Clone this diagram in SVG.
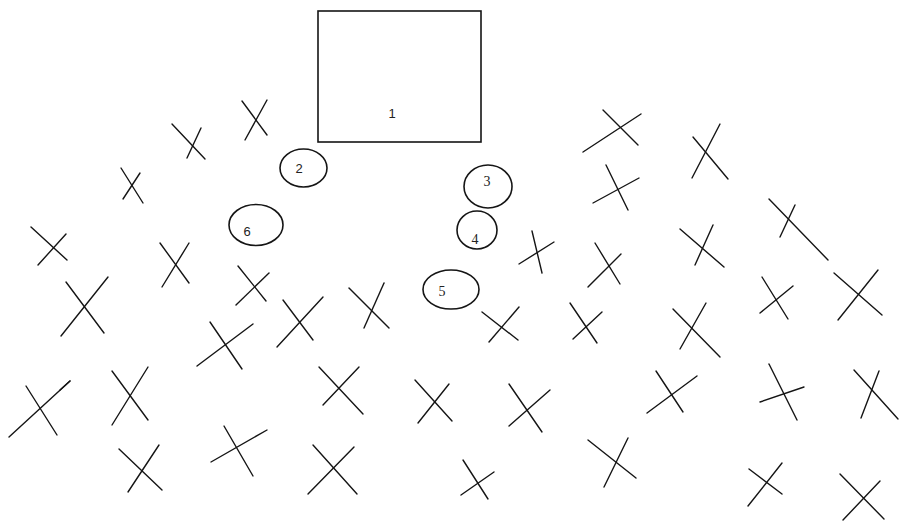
<svg xmlns="http://www.w3.org/2000/svg" width="899" height="527" viewBox="0 0 899 527">
<style>
.x line{stroke:#151515;stroke-width:1.4;stroke-linecap:round}
.n{fill:#fff;stroke:#151515;stroke-width:1.6}
.s{font-family:"Liberation Sans",Arial,sans-serif;font-size:13px;fill:#222;text-anchor:middle}
.r{font-family:"Liberation Serif","Times New Roman",serif;font-size:14px;fill:#222;text-anchor:middle}
</style>
<rect width="899" height="527" fill="#fff"/>
<g id="node1"><rect class="n" x="318" y="11" width="163" height="131" stroke-width="2"/><text class="s" x="392" y="118">1</text></g>
<g id="node2"><ellipse class="n" cx="303.5" cy="168" rx="23.5" ry="19"/><text class="s" x="299" y="173">2</text></g>
<g id="node3"><ellipse class="n" cx="488" cy="186.5" rx="24" ry="21.5"/><text class="r" x="487" y="186">3</text></g>
<g id="node4"><ellipse class="n" cx="477" cy="230" rx="20" ry="19"/><text class="r" x="475" y="244">4</text></g>
<g id="node5"><ellipse class="n" cx="451" cy="289.5" rx="28" ry="19.5"/><text class="r" x="442" y="296">5</text></g>
<g id="node6"><ellipse class="n" cx="256" cy="225" rx="27" ry="20.5"/><text class="s" x="247" y="236">6</text></g>
<g id="connectors" class="x">
<line x1="172" y1="124" x2="205" y2="159"/><line x1="201" y1="128" x2="187" y2="158"/>
<line x1="242" y1="101" x2="267" y2="135"/><line x1="267" y1="100" x2="245" y2="140"/>
<line x1="121" y1="168" x2="143" y2="203"/><line x1="140" y1="173" x2="123" y2="199"/>
<line x1="31" y1="227" x2="67" y2="260"/><line x1="66" y1="234" x2="38" y2="265"/>
<line x1="66" y1="282" x2="104" y2="333"/><line x1="108" y1="277" x2="61" y2="336"/>
<line x1="160" y1="243" x2="189" y2="283"/><line x1="189" y1="243" x2="162" y2="287"/>
<line x1="238" y1="266" x2="266" y2="301"/><line x1="269" y1="273" x2="236" y2="305"/>
<line x1="210" y1="322" x2="242" y2="369"/><line x1="253" y1="324" x2="197" y2="366"/>
<line x1="283" y1="300" x2="313" y2="340"/><line x1="323" y1="297" x2="277" y2="347"/>
<line x1="349" y1="288" x2="389" y2="328"/><line x1="384" y1="283" x2="364" y2="328"/>
<line x1="532" y1="231" x2="542" y2="273"/><line x1="554" y1="242" x2="519" y2="264"/>
<line x1="482" y1="312" x2="518" y2="340"/><line x1="519" y1="307" x2="489" y2="342"/>
<line x1="570" y1="303" x2="597" y2="343"/><line x1="602" y1="312" x2="573" y2="339"/>
<line x1="595" y1="243" x2="620" y2="284"/><line x1="621" y1="254" x2="588" y2="287"/>
<line x1="606" y1="165" x2="628" y2="210"/><line x1="593" y1="203" x2="639" y2="178"/>
<line x1="583" y1="152" x2="641" y2="114"/><line x1="603" y1="110" x2="638" y2="145"/>
<line x1="720" y1="124" x2="692" y2="178"/><line x1="693" y1="137" x2="728" y2="179"/>
<line x1="680" y1="229" x2="724" y2="267"/><line x1="713" y1="225" x2="695" y2="265"/>
<line x1="769" y1="199" x2="828" y2="260"/><line x1="795" y1="205" x2="780" y2="237"/>
<line x1="762" y1="277" x2="788" y2="319"/><line x1="793" y1="286" x2="760" y2="313"/>
<line x1="834" y1="273" x2="882" y2="315"/><line x1="878" y1="270" x2="838" y2="320"/>
<line x1="673" y1="309" x2="720" y2="357"/><line x1="706" y1="303" x2="680" y2="349"/>
<line x1="9" y1="437" x2="70" y2="381"/><line x1="26" y1="386" x2="57" y2="435"/>
<line x1="60" y1="390" x2="70" y2="381" stroke-width="2.6"/>
<line x1="112" y1="371" x2="148" y2="420"/><line x1="148" y1="367" x2="112" y2="425"/>
<line x1="119" y1="449" x2="162" y2="490"/><line x1="159" y1="445" x2="128" y2="492"/>
<line x1="224" y1="426" x2="253" y2="476"/><line x1="267" y1="430" x2="211" y2="462"/>
<line x1="319" y1="367" x2="363" y2="414"/><line x1="359" y1="367" x2="323" y2="405"/>
<line x1="415" y1="380" x2="452" y2="421"/><line x1="449" y1="384" x2="418" y2="423"/>
<line x1="509" y1="384" x2="542" y2="432"/><line x1="550" y1="390" x2="509" y2="426"/>
<line x1="313" y1="445" x2="357" y2="494"/><line x1="354" y1="447" x2="308" y2="494"/>
<line x1="463" y1="460" x2="488" y2="499"/><line x1="494" y1="472" x2="461" y2="495"/>
<line x1="588" y1="440" x2="636" y2="478"/><line x1="628" y1="438" x2="604" y2="487"/>
<line x1="656" y1="371" x2="683" y2="412"/><line x1="697" y1="376" x2="647" y2="413"/>
<line x1="769" y1="364" x2="797" y2="420"/><line x1="804" y1="387" x2="760" y2="402"/>
<line x1="854" y1="370" x2="898" y2="419"/><line x1="879" y1="371" x2="861" y2="418"/>
<line x1="749" y1="469" x2="782" y2="494"/><line x1="782" y1="463" x2="748" y2="506"/>
<line x1="840" y1="474" x2="884" y2="519"/><line x1="880" y1="481" x2="843" y2="520"/>
</g>
</svg>
